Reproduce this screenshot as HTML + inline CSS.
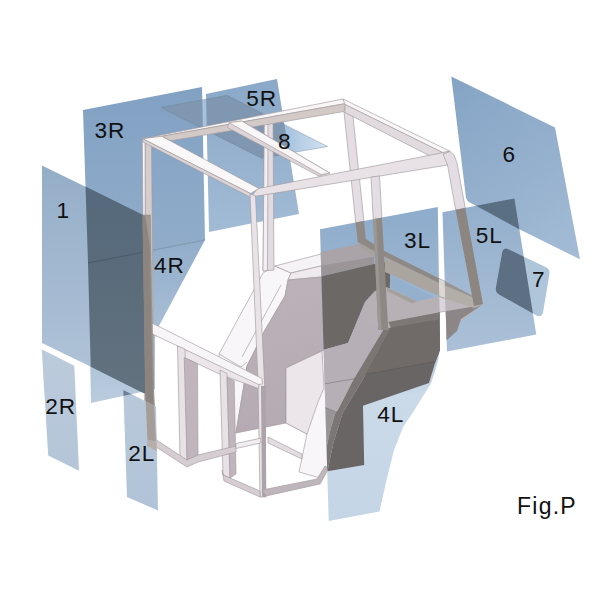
<!DOCTYPE html>
<html><head><meta charset="utf-8">
<style>
html,body{margin:0;padding:0;background:#fff;}
body{width:600px;height:600px;overflow:hidden;font-family:"Liberation Sans",sans-serif;}
svg{display:block}
text{font-family:"Liberation Sans",sans-serif;fill:#111;}
</style></head><body>
<svg width="600" height="600" viewBox="0 0 600 600">
<defs>
<linearGradient id="g3R" gradientUnits="userSpaceOnUse" x1="0" y1="90" x2="0" y2="260"><stop offset="0" stop-color="#82a1c3"/><stop offset="1" stop-color="#91adca"/></linearGradient>
<linearGradient id="g4R" gradientUnits="userSpaceOnUse" x1="0" y1="245" x2="0" y2="400"><stop offset="0" stop-color="#93aecb"/><stop offset="1" stop-color="#b9cbdd"/></linearGradient>
<linearGradient id="g5R" gradientUnits="userSpaceOnUse" x1="0" y1="80" x2="0" y2="230"><stop offset="0" stop-color="#8aa8c8"/><stop offset="1" stop-color="#a2bbd5"/></linearGradient>
<linearGradient id="g1" gradientUnits="userSpaceOnUse" x1="0" y1="170" x2="0" y2="390"><stop offset="0" stop-color="#95aec8"/><stop offset="1" stop-color="#b1c4d9"/></linearGradient>
<linearGradient id="g1d" gradientUnits="userSpaceOnUse" x1="0" y1="190" x2="0" y2="390"><stop offset="0" stop-color="#566a7d"/><stop offset="0.5" stop-color="#5b6c7b"/><stop offset="1" stop-color="#62727f"/></linearGradient>
<linearGradient id="g6" gradientUnits="userSpaceOnUse" x1="455" y1="80" x2="575" y2="255"><stop offset="0" stop-color="#85a4c5"/><stop offset="1" stop-color="#a3bbd5"/></linearGradient>
<linearGradient id="g5L" gradientUnits="userSpaceOnUse" x1="0" y1="200" x2="0" y2="350"><stop offset="0" stop-color="#93afcc"/><stop offset="1" stop-color="#abc0d7"/></linearGradient>
<linearGradient id="gL" gradientUnits="userSpaceOnUse" x1="0" y1="210" x2="0" y2="520"><stop offset="0" stop-color="#8eaccb"/><stop offset="0.35" stop-color="#9fb9d4"/><stop offset="0.6" stop-color="#cbdae9"/><stop offset="1" stop-color="#c4d5e6"/></linearGradient>
<linearGradient id="g2" gradientUnits="userSpaceOnUse" x1="0" y1="350" x2="0" y2="510"><stop offset="0" stop-color="#bccbdc"/><stop offset="1" stop-color="#b1c3d7"/></linearGradient>
<linearGradient id="g8" gradientUnits="userSpaceOnUse" x1="160" y1="0" x2="328" y2="0"><stop offset="0" stop-color="#a6c1dd"/><stop offset="0.76" stop-color="#a9c4df"/><stop offset="1" stop-color="#d5e4f2"/></linearGradient>
<linearGradient id="gW" gradientUnits="userSpaceOnUse" x1="270" y1="270" x2="320" y2="420"><stop offset="0" stop-color="#bcb2ba"/><stop offset="1" stop-color="#b5aab2"/></linearGradient>
<clipPath id="c3R"><polygon points="83,110 202,87 205,240 88,263"/></clipPath>
<clipPath id="c4R"><polygon points="88,263 205,240 161,322 156,331 155,340 155,389 91,403"/></clipPath>
<clipPath id="c5R"><polygon points="206,94 277,79 299,214 209,232"/></clipPath>
<clipPath id="cL"><polygon points="320,229.2 437.8,207 440,350 437.7,361.5 434.5,373 430.7,384 412.7,412.7 403.3,426.7 394,450 387,478 379.5,511.5 328.7,521"/></clipPath>
<clipPath id="c5L"><polygon points="442.5,212.3 514.4,198.4 536.3,334.5 447,351.5"/></clipPath>
<clipPath id="c6"><polygon points="451.3,76.5 555,127.5 580,259.3 519.3,229.3 490,213.3 468,201.5 466,198"/></clipPath>
<clipPath id="c35"><polygon points="83,110 202,87 205,240 88,263"/><polygon points="206,94 277,79 299,214 209,232"/></clipPath>
</defs>
<rect width="600" height="600" fill="#fff"/>

<g id="backglass">
<polygon points="83,110 202,87 205,240 88,263" fill="url(#g3R)" />
<polygon points="88,263 205,240 161,322 156,331 155,340 155,389 91,403" fill="url(#g4R)" />
<line x1="88" y1="263" x2="205" y2="240" stroke="#5f7890" stroke-width="0.6"/>
<polygon points="206,94 277,79 299,214 209,232" fill="url(#g5R)" />
<polygon points="161,107.5 227,95.5 327.5,146.5 261.5,158" fill="url(#g8)" stroke="#7e93a8" stroke-width="0.5"/>
<g clip-path="url(#c35)"><polygon points="161,107.5 227,95.5 327.5,146.5 261.5,158" fill="#7f97b0" stroke="#6f8499" stroke-width="0.5"/></g>
</g>


<g id="body" stroke="#a29a9f" stroke-width="0.65" stroke-linejoin="round">
<!-- far fender outer slope (white) -->
<polygon points="263,273 275,266 291,273 288,280 285,296 265,330 247,366 236,433 225,424 219,354" fill="#f8f6f8"/>
<polyline points="281,285 242,357" fill="none"/>
<polyline points="219,354 241,367 247,362" fill="none"/>
<!-- top face -->
<polygon points="275,266 321,254 357.5,245 374,256.7 321,266 291,273" fill="#f5f3f5"/>
<polygon points="291,273 321,266 374,256.7 374,264 321,277 288,280" fill="#eeeaee"/>
<!-- wall -->
<polygon points="288,280 321,277 374,264 375,300 348,343 322,351 286,368 286,423 236,433 247,366 265,330 285,296" fill="url(#gW)"/>
<!-- box / floor -->
<polygon points="286,368 322,351 347,341 362,315 390,326 367,360 350,392 336,414 330,442 327.5,470 320,478 299,472 307,434 286,423" fill="#f8f6f8"/>
<polygon points="286,368 322,351 324,388 318,402 307,434 286,423" fill="#ece5ea"/>
<polygon points="268,437 302,454 302,459 268,443" fill="#e3dce1"/>
</g>


<g id="frame" stroke="#a29a9f" stroke-width="0.65" stroke-linejoin="round">
<polygon points="264.4,117 273,115.5 274,270 263,271" fill="#e1dae0"/>
<polygon points="264.4,117 268,116.5 267.5,270.5 263,271" fill="#f2eef1"/>
<polygon points="344,112 352.5,112 366,241 357.8,242" fill="#e4dde3"/>
<polygon points="142.3,139.5 145.3,140.5 145.3,216 148,394 150.5,440 146,437 144.3,394" fill="#f7f5f6"/>
<polygon points="145.3,140.5 151.5,141 153.7,394 156,441 150.5,440 148,394 145.3,216" fill="#d5cdcb"/>
<polygon points="142.5,138.7 343,99 346,103.5 161.7,136.3" fill="#f8f6f7"/>
<polygon points="161.7,136.3 346,103.5 344,111.5 170.8,140.8" fill="#d3c9c6"/>
<polygon points="343,99 450,151.3 442.5,152.5 345,104.5" fill="#f8f6f7"/>
<polygon points="345,104.5 442.5,152.5 430,156 345,112.5" fill="#e1dadf"/>
<polygon points="229,122.7 241.7,121 330,173.2 318.6,176 227.5,127.5" fill="#ddd5d8"/>
<polygon points="229,122.7 241.7,121 330,173.2 321,174.5" fill="#f8f6f7"/>
<polygon points="257.5,188.7 450,151.3 447.5,165 251,197" fill="#e8e2e6"/>
<polygon points="142.5,138.7 161.7,136.3 259,188.5 250.5,193.5" fill="#f9f7f8"/>
<polygon points="142.5,138.7 250.5,193.5 251,197.5 143,142" fill="#ddd5d6"/>
<polygon points="371,177 379.5,176 388,325 378.8,326" fill="#e4dde3"/>
<polygon points="443,154 450,151.5 454,155 457,163 466.5,215 483,304 474,306 456.6,215 447.5,165" fill="#e4dde3"/>
<polygon points="250,194 255.5,196 264.5,382 266,497 260,497 258,382" fill="#e9e3e8"/>
<polygon points="385,272 441,297 474,308 482,305 441,312 390.8,327.5 383,330 378,300" fill="#dcd6da"/>
<polygon points="357.8,238.5 366,239 385,251.3 441,279.3 478,298.5 483,305 474,308 441,297 385,272 374,257 360,247" fill="#ddd7d3"/>
<polygon points="261,386 266,386 266,497 262,497" fill="#ada3ab" stroke="none"/>
<polygon points="177.5,345.5 259,383.5 258.5,388.5 220,374.2 184.2,357.5" fill="#ece6eb"/>
<polygon points="146,323.5 151,322.5 262,378.5 262.5,384 258.5,384.5 145,330.5" fill="#f7f5f7"/>
<polygon points="177.5,346 185,349 187,460 180,457" fill="#e8e1e5"/>
<polygon points="184.2,357.5 197.5,363.7 198,455 187,460" fill="#c0b5bd"/>
<polygon points="220,370 227,373.5 230,478 223,475" fill="#e8e1e5"/>
<polygon points="227,377.5 234.2,380.8 236,474 230,478" fill="#c0b5bd"/>
<polygon points="147,431 152,437 187,460 198,455 236,446 236,452 198,462 187,467 147,441" fill="#d6cdd3"/>
<polygon points="222,470 223,475 230,478 260,491 260,497 224,481" fill="#d6cdd3"/>
<polygon points="236,443.5 260.7,438.2 260.7,443 236,448.5" fill="#f1edf0"/>
<polygon points="262,490 317,479 325,466 329,468 320,484 266,496" fill="#beb6ba"/>
</g>


<g id="frontglass">
<polygon points="320,229.2 437.8,207 440,350 437.7,361.5 434.5,373 430.7,384 412.7,412.7 403.3,426.7 394,450 387,478 379.5,511.5 328.7,521" fill="url(#gL)" />
<g clip-path="url(#cL)">
  <polygon points="319,252.5 359,244 374,256.7 319,266" fill="#aaa4a8"/>
  <polygon points="319,266 374,256.7 374,264 319,277" fill="#9b9598"/>
  <polygon points="319,277 374,264 390,262 390,288 375,291 365,302 348,343 319,351" fill="#6b6866"/>
  <polygon points="361.7,318.3 365,302 375,291 387,287.3 417,301.3 434.3,297.3 441,296 441,312 390.8,327.5 383.3,330" fill="#b7b1b5"/>
  <polygon points="387,287.3 417,301.3 412,303.5 387,291" fill="#a6a09c"/>
  <polygon points="390.3,275.3 434.3,297.3 417,301.3 389.7,286.7" fill="#94b0cd"/>
  <polygon points="319,351 348,343 365,302 361.7,318.3 383.3,330 353.3,380 337.5,410.8 335.8,411.7 325,407.5 319,407" fill="#b6afb5"/>
  <polygon points="319,407 325,407.5 335.8,411.7 330.8,428.3 326.7,446.7 326,471 319,471" fill="#9a9496"/>
  <polygon points="383.3,330 390.8,327.5 362.5,380 342.5,413.3 333.3,443.3 327.5,471 326,471 326.7,446.7 330.8,428.3 335.8,411.7 337.5,410.8 353.3,380" fill="#7b7673"/>
  <polygon points="390.8,327.5 441,312 482,305 460,322 441,347 440,350 435.5,361.5 432,373 429,383 363,405.8 364.2,465 327.5,471.3 333.3,443.3 342.5,413.3 362.5,380" fill="#696564"/>
  <polygon points="390.8,327.5 441,312 482,305 460,322 441,347 440,350 435.5,361.5 365.3,374.3" fill="#706b69"/>
  <polyline points="365.3,374.3 435.5,361.5" fill="none" stroke="#5a5655" stroke-width="0.5"/>
  <polygon points="388.3,322 441,312 441,319 390.8,327.5" fill="#7d7875"/>
  <polyline points="325,407.5 335.8,411.7" fill="none" stroke="#6d6869" stroke-width="0.5"/>
  <polyline points="324,384 356,378.5" fill="none" stroke="#6d6869" stroke-width="0.5"/>
  <!-- rail -->
  <polygon points="360,247 374,257 374,246.5 357.8,242" fill="#a8a29e"/>
  <polygon points="385,256.7 439.7,283.3 441,284 441,297 385,272" fill="#aba5a0"/>
  <polygon points="357.8,238.5 366,239 385,251.3 441,279.3 441,284 385,256.7 357.8,242" fill="#8f8985"/>
  <polygon points="372.5,205 381.3,205 388.3,330 378.3,330" fill="#8e8884"/>
  <polygon points="372.5,205 375.5,205 381.5,330 378.3,330" fill="#9d9793"/>
  <polygon points="353.5,205 362.5,205 366,241 357.8,242" fill="#908986"/>
</g>
<polygon points="442.5,212.3 514.4,198.4 536.3,334.5 447,351.5" fill="url(#g5L)" />
<g clip-path="url(#c5L)">
  <polygon points="441,296 474,308 482,305 460,322 441,347 441,312" fill="#bcb6ba"/>
  <polygon points="441,312 482,305 461,319 457,331 438,348 435,365" fill="#8c8686"/>
  <polygon points="441,284 478,299.5 483,305 474,308 441,297" fill="#b3ada8"/>
  <polygon points="441,279.3 478,298.5 483,305 478,299.5 441,284" fill="#999490"/>
  <polygon points="453,195 463,195 466.5,215 483,304 474,306 456.6,215" fill="#8d8580"/>
</g>
<polygon points="451.3,76.5 555,127.5 580,259.3 519.3,229.3 490,213.3 468,201.5 466,198" fill="url(#g6)" />
<g clip-path="url(#c5L)"><polygon points="451.3,76.5 555,127.5 580,259.3 519.3,229.3 490,213.3 468,201.5 466,198" fill="#5b6f83" /></g>
<path d="M508.5,249.3 L546.5,267.5 Q550.3,270 549.3,275 L543,312.5 Q541.3,318 536.5,315.5 L499,294.5 Q495,292 496,287 L502.3,251.5 Q503.8,247 508.5,249.3Z" fill="#afc5da"/>
<g clip-path="url(#c5L)"><path d="M508.5,249.3 L546.5,267.5 Q550.3,270 549.3,275 L543,312.5 Q541.3,318 536.5,315.5 L499,294.5 Q495,292 496,287 L502.3,251.5 Q503.8,247 508.5,249.3Z" fill="#5d6f82"/></g>
<polygon points="42,165.5 145.3,216 147,394 42,343" fill="url(#g1)" />
<polygon points="85.5,186.5 145.3,216 147,394 142,392.5 90.7,366.8 88,263" fill="url(#g1d)"/>
<line x1="88" y1="263" x2="145.5" y2="251.7" stroke="#3f4d5a" stroke-width="0.6"/>
<polygon points="142.6,215 150.3,215 153.7,394 156,441.5 150,440.5 147.5,440.5 145.3,394" fill="#a29b95" stroke="#7d766f" stroke-width="0.4"/>
<polygon points="142.6,215 145.3,216 150,247 151.5,330 153,394 155,441 150,440.5 147.5,440.5 145.3,394" fill="#8c857f"/>
<polygon points="41.7,349.3 74.3,365.7 79,470.7 48.2,455.5" fill="url(#g2)" />
<polygon points="123.3,390 156,406.5 158,510.5 127,497" fill="url(#g2)" />
<g clip-path="url(#c4R)"><polygon points="123.3,390 156,406.5 158,510.5 127,497" fill="#6e8194" /></g>
<clipPath id="c2L"><polygon points="123.3,390 156,406.5 158,510.5 127,497"/></clipPath>
<g clip-path="url(#c2L)">
<polygon points="145.3,394 153.7,394 156,441.5 150,440.5 147.5,440.5" fill="#a59e98"/>
<polygon points="147.5,440.5 156,441.5 187,460 187,467 147,446" fill="#b5aeaa"/>
</g>
</g>


<g id="labels" font-size="22.6" letter-spacing="0.9">
<text x="56.5" y="218">1</text>
<text x="94.6" y="138.3">3R</text>
<text x="246.3" y="106.3">5R</text>
<text x="278" y="149.3">8</text>
<text x="502.4" y="162.4">6</text>
<text x="404.1" y="248.2">3L</text>
<text x="475.8" y="242.5">5L</text>
<text x="532" y="287">7</text>
<text x="154" y="272.7">4R</text>
<text x="377.2" y="422">4L</text>
<text x="45.2" y="413.5">2R</text>
<text x="128.3" y="461.3">2L</text>
<text x="517" y="514.4" font-size="23" fill="#3a3a3a" letter-spacing="1.25">Fig.P</text>
</g>

</svg>
</body></html>
